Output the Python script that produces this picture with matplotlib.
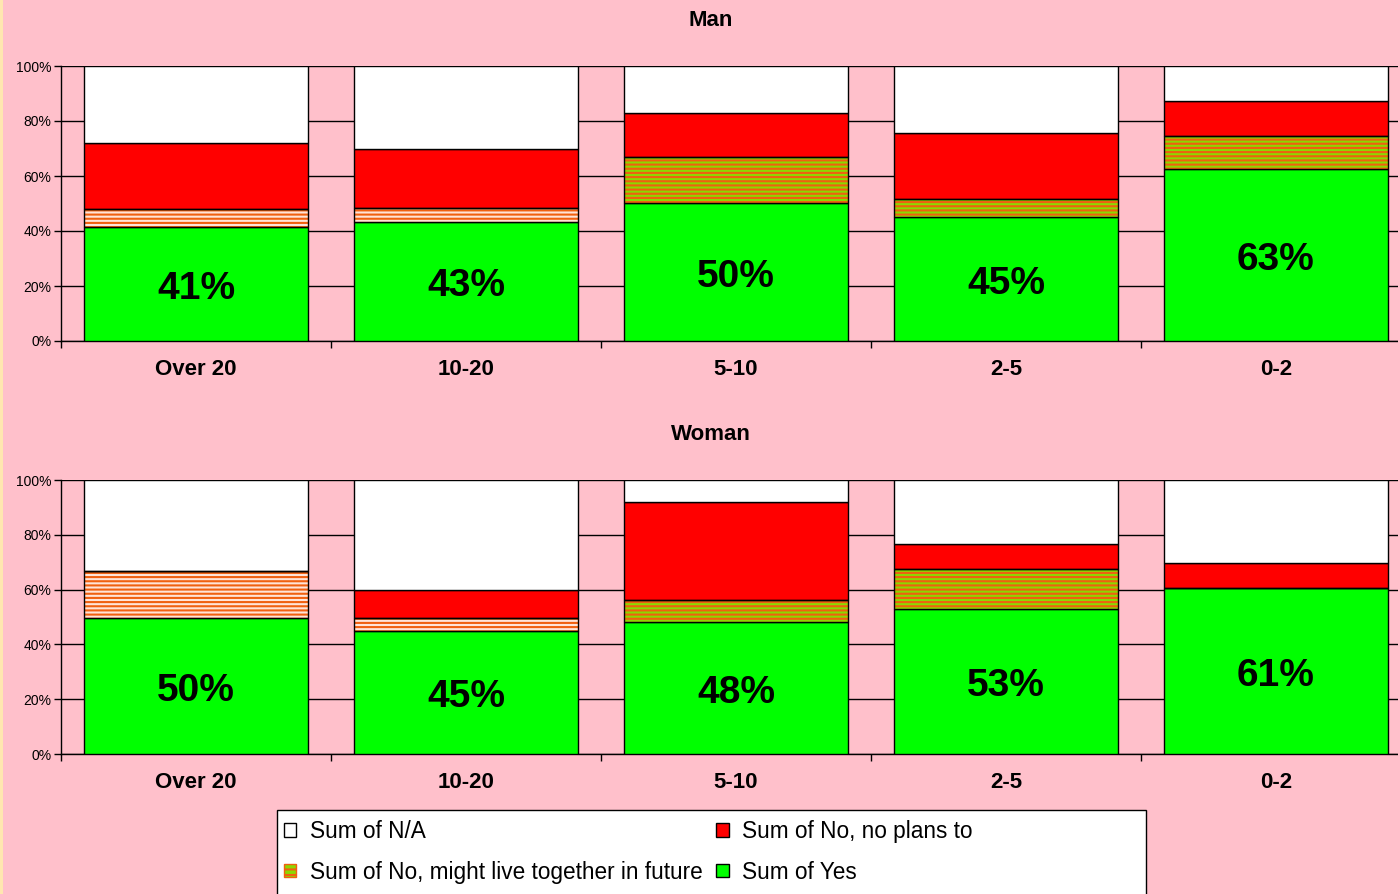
import matplotlib
matplotlib.use("Agg")
import matplotlib.pyplot as plt
from matplotlib.patches import Patch, Rectangle
import numpy as np

categories = ["Over 20", "10-20", "5-10", "2-5", "0-2"]

man_yes = [41.4, 43.3, 50.1, 45.0, 62.6]
man_might = [6.6, 5.1, 16.7, 6.5, 12.1]
man_noplans = [24.0, 21.4, 16.2, 24.2, 12.7]
man_na = [28.0, 30.2, 17.0, 24.3, 12.6]

woman_yes = [49.7, 44.9, 48.2, 52.8, 60.7]
woman_might = [17.1, 4.8, 8.0, 14.7, 0.0]
woman_noplans = [0.0, 10.2, 35.8, 9.1, 9.0]
woman_na = [33.2, 40.1, 8.0, 23.4, 30.3]

yticks = [0, 20, 40, 60, 80, 100]
ytick_labels = ["0%", "20%", "40%", "60%", "80%", "100%"]

legend_labels = ["Sum of N/A", "Sum of No, might live together in future",
                 "Sum of No, no plans to", "Sum of Yes"]

PINK = "#FFC0CB"
GREEN = "#00FF00"
RED = "#FF0000"
HATCH_ORANGE = "#F06010"
hatch_face_man = ["#FFE4D8", "#FFE4D8", "#8CD800", "#8CD800", "#8CD800"]
hatch_face_woman = ["#FFE4D8", "#FFE4D8", "#8CD800", "#8CD800", "#8CD800"]

plt.rcParams["font.family"] = ["Liberation Sans", "DejaVu Sans"]
plt.rcParams["hatch.linewidth"] = 1.5

W, H = 1398, 894
fig = plt.figure(figsize=(W / 100, H / 100), dpi=100)
fig.patch.set_facecolor(PINK)
fig.patches.append(Rectangle((0, 0), 3 / W, 1, transform=fig.transFigure,
                             facecolor="#FFE6B0", edgecolor="none"))

PCT_SIZE = 28


def panel(rect, yes, might, noplans, na, hatch_faces, title, title_y):
    ax = fig.add_axes(rect)
    ax.set_facecolor(PINK)
    x = np.arange(len(categories))
    w = 0.833
    yes = np.array(yes); might = np.array(might)
    noplans = np.array(noplans); na = np.array(na)
    ax.bar(x, yes, w, color=GREEN, edgecolor="black", linewidth=1, zorder=3)
    ax.bar(x, might, w, bottom=yes, color=hatch_faces, edgecolor=HATCH_ORANGE,
           linewidth=0, hatch="----", zorder=3)
    ax.bar(x, might, w, bottom=yes, fill=False, edgecolor="black", linewidth=1, zorder=4)
    b2 = yes + might
    ax.bar(x, noplans, w, bottom=b2, color=RED, edgecolor="black", linewidth=1, zorder=3)
    b3 = b2 + noplans
    ax.bar(x, na, w, bottom=b3, color="white", edgecolor="black", linewidth=1, zorder=3)
    for xi, v in zip(x, yes):
        ax.annotate(f"{v:.0f}%", xy=(xi, v / 2), xytext=(0, -PCT_SIZE * 0.72 / 2 - 0.5),
                    textcoords="offset points", ha="center", va="baseline",
                    fontsize=PCT_SIZE, fontweight="bold", color="black", zorder=5)
    ax.set_xlim(-0.5, len(categories) - 0.5)
    ax.set_ylim(0, 100)
    ax.set_yticks(yticks)
    ax.set_yticklabels(ytick_labels, fontsize=10)
    ax.yaxis.grid(True, color="black", linewidth=1, zorder=0)
    ax.set_axisbelow(True)
    ax.set_xticks(x)
    ax.set_xticklabels(categories, fontsize=16, fontweight="bold")
    ax.set_xticks(np.arange(len(categories) + 1) - 0.5, minor=True)
    ax.tick_params(axis="x", which="major", length=0, pad=13)
    ax.tick_params(axis="x", which="minor", length=5, width=1, color="black")
    ax.tick_params(axis="y", length=5, width=1, pad=2)
    for s in ["top", "right"]:
        ax.spines[s].set_visible(False)
    ax.spines["left"].set_linewidth(1)
    ax.spines["bottom"].set_linewidth(1)
    fig.text(711 / W, 1 - title_y / H, title, ha="center", va="center",
             fontsize=16, fontweight="bold")
    return ax


panel([61 / W, 1 - 341 / H, 1350 / W, 275 / H], man_yes, man_might, man_noplans,
      man_na, hatch_face_man, "Man", 21)
panel([61 / W, 1 - 754 / H, 1350 / W, 274 / H], woman_yes, woman_might, woman_noplans,
      woman_na, hatch_face_woman, "Woman", 434)

# legend box (extends past the bottom edge)
fig.patches.append(Rectangle((277 / W, -0.05), (1146 - 277) / W, 0.05 + (894 - 810) / H,
                             transform=fig.transFigure, facecolor="white",
                             edgecolor="black", linewidth=1, zorder=5))

handles = [
    Patch(facecolor="white", edgecolor="black", linewidth=1),
    Patch(facecolor="#8CD800", edgecolor=HATCH_ORANGE, hatch="---", linewidth=1),
    Patch(facecolor=RED, edgecolor="black", linewidth=1),
    Patch(facecolor=GREEN, edgecolor="black", linewidth=1),
]
leg = fig.legend(handles, legend_labels, ncol=2, loc="upper left",
                 bbox_to_anchor=(284 / W, 1 - 820 / H), frameon=False,
                 fontsize=16.3, handlelength=0.55, handleheight=0.55, handletextpad=0.6,
                 columnspacing=0.6, labelspacing=0.78, borderpad=0, borderaxespad=0)
leg.set_zorder(6)

fig.savefig("out.png", dpi=100, facecolor=fig.get_facecolor())
